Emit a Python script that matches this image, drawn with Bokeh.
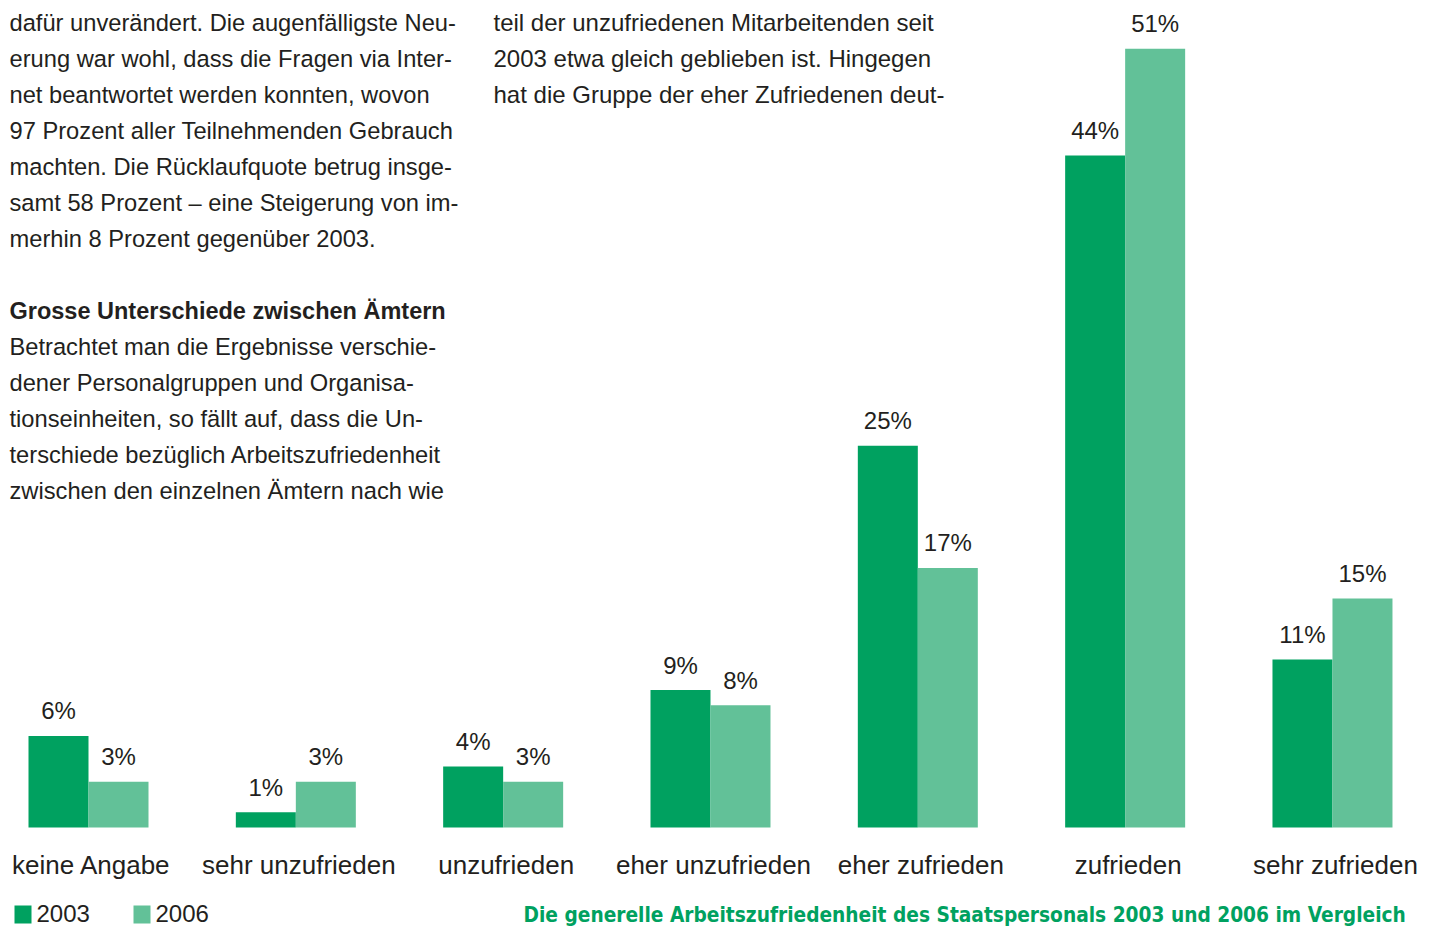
from bokeh.plotting import figure
from bokeh.models import Range1d, ColumnDataSource, Label, BoxAnnotation
from bokeh.core.properties import value
from bokeh.embed import file_html
from bokeh.resources import INLINE

categories = ["keine Angabe", "sehr unzufrieden", "unzufrieden", "eher unzufrieden",
              "eher zufrieden", "zufrieden", "sehr zufrieden"]
values_2003 = [6, 1, 4, 9, 25, 44, 11]
values_2006 = [3, 3, 3, 8, 17, 51, 15]
series_names = ["2003", "2006"]
caption = "Die generelle Arbeitszufriedenheit des Staatspersonals 2003 und 2006 im Vergleich"

col1_lines = [
    "dafür unverändert. Die augenfälligste Neu-",
    "erung war wohl, dass die Fragen via Inter-",
    "net beantwortet werden konnten, wovon",
    "97 Prozent aller Teilnehmenden Gebrauch",
    "machten. Die Rücklaufquote betrug insge-",
    "samt 58 Prozent – eine Steigerung von im-",
    "merhin 8 Prozent gegenüber 2003.",
]
heading = "Grosse Unterschiede zwischen Ämtern"
col1b_lines = [
    "Betrachtet man die Ergebnisse verschie-",
    "dener Personalgruppen und Organisa-",
    "tionseinheiten, so fällt auf, dass die Un-",
    "terschiede bezüglich Arbeitszufriedenheit",
    "zwischen den einzelnen Ämtern nach wie",
]
col2_lines = [
    "teil der unzufriedenen Mitarbeitenden seit",
    "2003 etwa gleich geblieben ist. Hingegen",
    "hat die Gruppe der eher Zufriedenen deut-",
]

DARK = "#00A160"
LIGHT = "#62C198"
TXT = "#231F20"
FONT = "Liberation Sans"

W, H = 1433, 929
group_px = 207.33
px_per_pct = 15.27
x0 = -88 / group_px
y0 = -102 / px_per_pct

p = figure(width=W, height=H, x_range=Range1d(x0, x0 + W / group_px),
           y_range=Range1d(y0, y0 + H / px_per_pct),
           x_axis_type=None, y_axis_type=None, toolbar_location=None,
           output_backend="svg", min_border=0)
p.outline_line_color = None
p.grid.visible = False
p.background_fill_color = "white"
p.border_fill_color = "white"

bw = 60 / group_px
idx = list(range(len(categories)))
src = ColumnDataSource(dict(
    x1=[i - bw / 2 for i in idx], x2=[i + bw / 2 for i in idx],
    v1=values_2003, v2=values_2006,
    l1=[f"{v}%" for v in values_2003], l2=[f"{v}%" for v in values_2006],
    xc=idx, cat=categories, zero=[0] * len(idx),
))
p.vbar(x="x1", top="v1", width=bw, source=src, fill_color=DARK, line_color=None)
p.vbar(x="x2", top="v2", width=bw, source=src, fill_color=LIGHT, line_color=None)

for xs, ls, vs in (("x1", "l1", "v1"), ("x2", "l2", "v2")):
    p.text(x=xs, y=vs, text=ls, source=src, text_align="center", text_baseline="alphabetic",
           y_offset=-25, text_font=value(FONT), text_font_size="24px", text_color=TXT)

p.text(x="xc", y="zero", text="cat", source=src, text_align="center", text_baseline="alphabetic",
       x_offset=3, y_offset=37, text_font=value(FONT), text_font_size="26px", text_color=TXT)

SHIFT = 9

def add_label(txt, x, baseline_top, size="24px", style="normal", color=TXT, font=FONT):
    p.add_layout(Label(x=x, y=H - baseline_top + SHIFT, x_units="screen", y_units="screen", text=txt,
                       text_font=font, text_font_size=size, text_font_style=style,
                       text_color=color, text_baseline="alphabetic", text_align="left"))

for k, line in enumerate(col1_lines):
    add_label(line, 9, 31 + 36 * k, size="23.7px")
add_label(heading, 9, 319, size="23.5px", style="bold")
for k, line in enumerate(col1b_lines):
    add_label(line, 9, 355 + 36 * k, size="23.7px")
for k, line in enumerate(col2_lines):
    add_label(line, 493, 31 + 36 * k)

# legend
for sx, col, name in ((14, DARK, series_names[0]), (133, LIGHT, series_names[1])):
    p.add_layout(BoxAnnotation(left=sx, right=sx + 17, bottom=H - 923, top=H - 905,
                               left_units="screen", right_units="screen",
                               bottom_units="screen", top_units="screen",
                               fill_color=col, fill_alpha=1, line_color=None))
    add_label(name, sx + 22, 922, size="24px")

add_label(caption, 523, 923, size="20.7px", style="bold", color=DARK, font="DejaVu Sans Condensed")

open("out.html", "w").write(file_html(p, INLINE))
